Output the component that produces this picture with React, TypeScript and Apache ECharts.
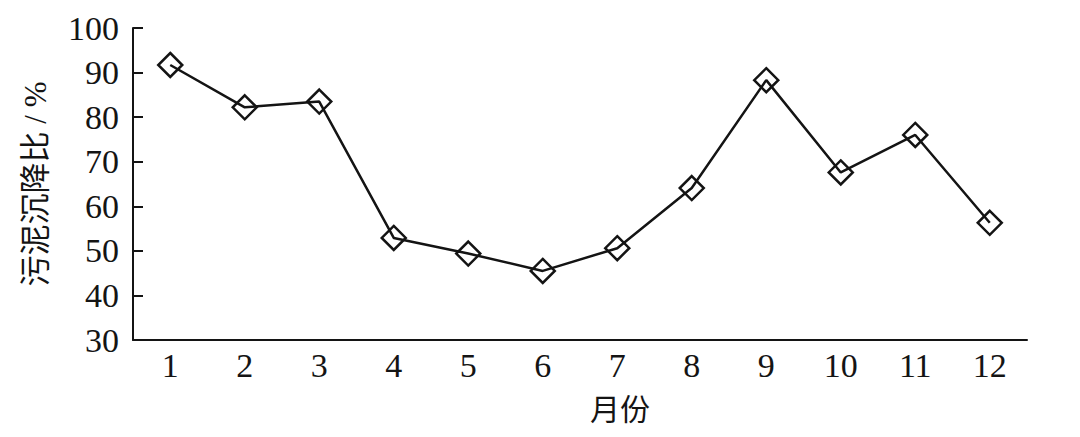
import React, { useEffect, useRef } from 'react';
import * as echarts from 'echarts';

const months = ['1', '2', '3', '4', '5', '6', '7', '8', '9', '10', '11', '12'];
const settlingRatio = [91.7, 82.2, 83.5, 52.9, 49.4, 45.5, 50.6, 64.1, 88.3, 67.6, 76.0, 56.3];

const yMin = 30;
const yMax = 100;
const yStep = 10;

const FONT = '"Liberation Serif", "Noto Sans CJK SC", serif';
const INK = '#141414';

const App: React.FC = () => {
  const chartRef = useRef<HTMLDivElement>(null);

  useEffect(() => {
    if (!chartRef.current) return;
    const chart = echarts.init(chartRef.current, undefined, { renderer: 'svg' });

    chart.setOption({
      animation: false,
      backgroundColor: '#fff',
      grid: { left: 133, right: 53, top: 28, bottom: 97 },
      xAxis: {
        type: 'category',
        data: months,
        boundaryGap: true,
        name: '月份',
        nameLocation: 'middle',
        nameGap: 54,
        nameTextStyle: { fontFamily: FONT, fontSize: 30, color: INK, padding: [0, 0, 0, 80] },
        axisLine: { lineStyle: { color: INK, width: 2 } },
        axisTick: { inside: true, length: 10, lineStyle: { color: INK, width: 2 } },
        axisLabel: { fontFamily: FONT, fontSize: 34, color: INK, margin: 8 },
        splitLine: { show: false }
      },
      yAxis: {
        type: 'value',
        min: yMin,
        max: yMax,
        interval: yStep,
        name: '污泥沉降比 / %',
        nameLocation: 'middle',
        nameGap: 82,
        nameTextStyle: { fontFamily: FONT, fontSize: 31, color: INK },
        axisLine: { show: true, lineStyle: { color: INK, width: 2 } },
        axisTick: { show: true, inside: true, length: 10, lineStyle: { color: INK, width: 2 } },
        axisLabel: { fontFamily: FONT, fontSize: 34, color: INK, margin: 14 },
        splitLine: { show: false }
      },
      series: [
        {
          type: 'line',
          data: settlingRatio,
          symbol: 'diamond',
          symbolSize: 24,
          lineStyle: { color: INK, width: 2.5 },
          itemStyle: { color: 'transparent', borderColor: INK, borderWidth: 2.5 }
        }
      ]
    });

    return () => {
      chart.dispose();
    };
  }, []);

  return (
    <div
      ref={chartRef}
      style={{ position: 'fixed', left: 0, top: 0, width: 1080, height: 437, background: '#fff' }}
    ></div>
  );
};

export default App;
